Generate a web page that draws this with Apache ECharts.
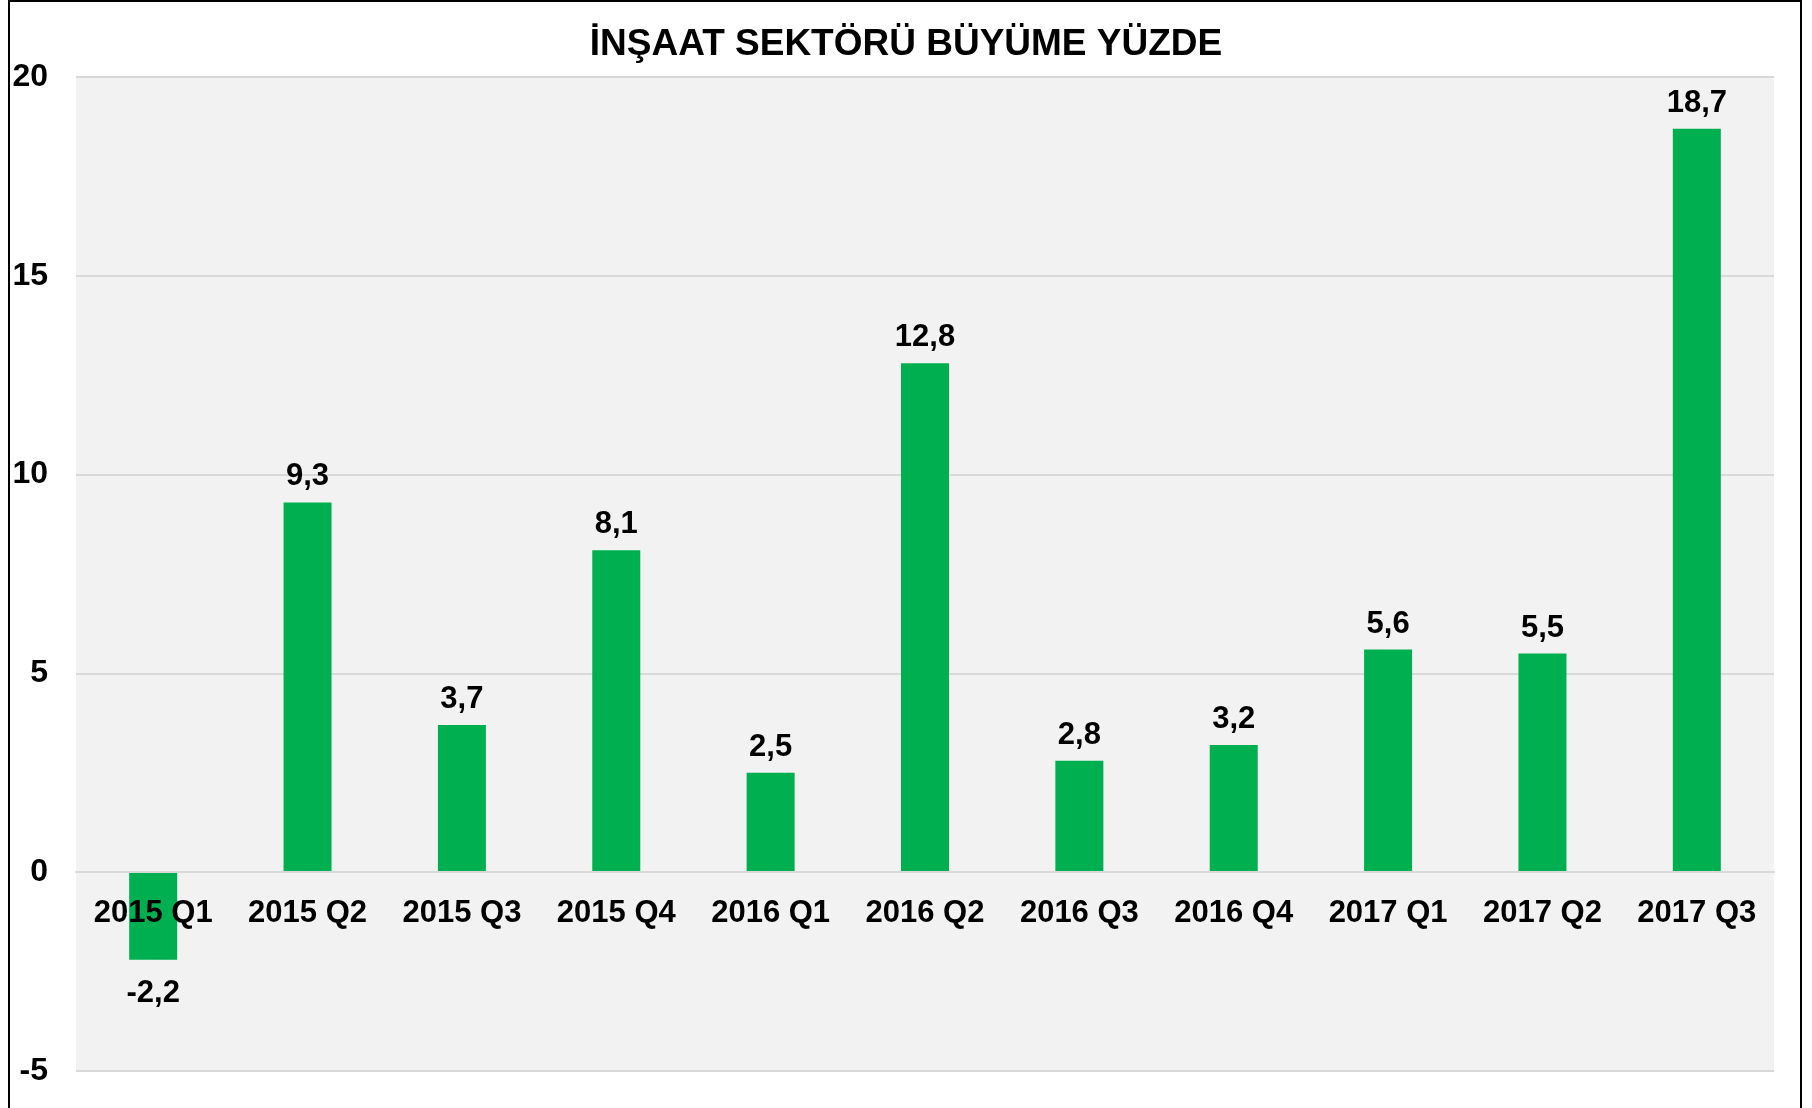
<!DOCTYPE html>
<html>
<head>
<meta charset="utf-8">
<title>İnşaat sektörü büyüme</title>
<script src="https://cdn.jsdelivr.net/npm/echarts@6/dist/echarts.min.js"></script>
<style>
  html, body { margin: 0; padding: 0; background: #fff; }
  #chart { width: 1812px; height: 1108px; }
  #frame {
    position: absolute; left: 8px; top: 0; width: 1790px; height: 1120px;
    border: 2px solid #000; pointer-events: none;
  }
</style>
</head>
<body>
<div id="chart"></div>
<div id="frame"></div>
<script>
// quarters and growth (%)
var quarters = ['2015 Q1', '2015 Q2', '2015 Q3', '2015 Q4', '2016 Q1', '2016 Q2',
  '2016 Q3', '2016 Q4', '2017 Q1', '2017 Q2', '2017 Q3']
var growth = [-2.2, 9.3, 3.7, 8.1, 2.5, 12.8, 2.8, 3.2, 5.6, 5.5, 18.7]
var yTicks = { min: -5, max: 20, step: 5 }

var fontFamily = 'Liberation Sans, Arial, sans-serif'

var chart = echarts.init(document.getElementById('chart'))

// category labels sit under the zero line, so lift the x axis from the grid bottom
var gridTop = 77
var gridBottom = 37
var plotH = 1108 - gridTop - gridBottom
var zeroLift = plotH * (0 - yTicks.min) / (yTicks.max - yTicks.min)

chart.setOption({
  animation: false,
  backgroundColor: '#fff',
  title: {
    text: 'İNŞAAT SEKTÖRÜ BÜYÜME YÜZDE',
    left: 'center',
    top: 21,
    textStyle: { fontFamily: fontFamily, fontWeight: 'bold', fontSize: 37, color: '#000' }
  },
  grid: {
    left: 76,
    right: 38,
    top: gridTop,
    bottom: gridBottom,
    outerBoundsMode: 'none',
    show: true,
    backgroundColor: '#f2f2f2',
    borderWidth: 0
  },
  xAxis: {
    type: 'category',
    data: quarters,
    offset: -zeroLift,
    z: 5, // labels drawn over the negative bar
    axisTick: { show: false },
    axisLine: { onZero: false, lineStyle: { color: '#d9d9d9', width: 2 } },
    axisLabel: {
      interval: 0,
      margin: 26,
      color: '#000',
      fontFamily: fontFamily,
      fontWeight: 'bold',
      fontSize: 31
    }
  },
  yAxis: {
    type: 'value',
    min: yTicks.min,
    max: yTicks.max,
    interval: yTicks.step,
    axisLine: { show: false },
    axisTick: { show: false },
    splitLine: { lineStyle: { color: '#d9d9d9', width: 2 } },
    axisLabel: {
      margin: 28,
      color: '#000',
      fontFamily: fontFamily,
      fontWeight: 'bold',
      fontSize: 32
    }
  },
  series: [
    {
      type: 'bar',
      barWidth: 48,
      itemStyle: { color: '#00b050' },
      data: growth.map(function (v) {
        return {
          value: v,
          label: { position: v < 0 ? 'bottom' : 'top', distance: v < 0 ? 18 : 10 }
        }
      }),
      label: {
        show: true,
        color: '#000',
        fontFamily: fontFamily,
        fontWeight: 'bold',
        fontSize: 31,
        formatter: function (p) {
          return String(p.value).replace('.', ',')
        }
      }
    }
  ]
})
</script>
</body>
</html>
